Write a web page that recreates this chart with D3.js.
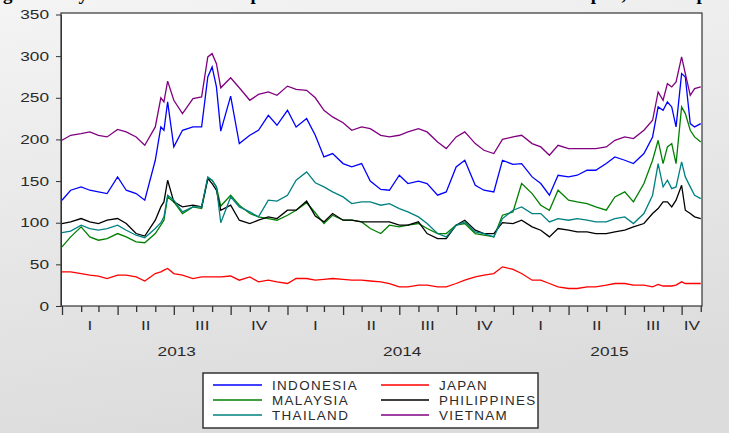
<!DOCTYPE html>
<html>
<head>
<meta charset="utf-8">
<script src="https://cdn.jsdelivr.net/npm/d3@7"></script>
<style>
  html, body { margin: 0; padding: 0; }
  body { width: 729px; height: 433px; overflow: hidden; }
  svg text { font-family: "Liberation Sans", Arial, sans-serif; fill: #2a2a2a; }
</style>
</head>
<body>
<script>
// data (CDS spreads, basis points)

var dates = [
  "2013-01-01","2013-01-15","2013-02-01","2013-02-15","2013-03-01","2013-03-15","2013-04-01","2013-04-15",
  "2013-05-01","2013-05-15","2013-06-01","2013-06-10","2013-06-15","2013-06-21","2013-07-01","2013-07-15",
  "2013-08-01","2013-08-15","2013-08-25","2013-09-01","2013-09-08","2013-09-15","2013-10-01","2013-10-15",
  "2013-11-01","2013-11-15","2013-12-01","2013-12-15",
  "2014-01-01","2014-01-15","2014-02-01","2014-02-15","2014-03-01","2014-03-15","2014-04-01","2014-04-15",
  "2014-05-01","2014-05-15","2014-06-01","2014-06-15","2014-07-01","2014-07-15","2014-08-01","2014-08-15",
  "2014-09-01","2014-09-15","2014-10-01","2014-10-15","2014-11-01","2014-11-15","2014-12-01","2014-12-15",
  "2015-01-01","2015-01-15","2015-02-01","2015-02-15","2015-03-01","2015-03-15","2015-04-01","2015-04-15",
  "2015-05-01","2015-05-15","2015-06-01","2015-06-15","2015-07-01","2015-07-15","2015-08-01","2015-08-15",
  "2015-08-24","2015-09-01","2015-09-08","2015-09-15","2015-09-22","2015-10-01","2015-10-07","2015-10-15",
  "2015-10-22","2015-11-01"
];

var indonesia = [
  127,139,143,139,137,135,155,139,135,127,175,215,211,245,191,211,215,215,275,287,263,210,252,195,205,211,229,217,
  235,215,225,205,179,183,171,167,171,150,140,139,157,147,150,147,133,137,167,175,145,139,137,175,
  170,171,155,147,133,157,155,157,163,163,171,179,175,171,183,203,239,235,245,239,215,279,275,219,215,219
];
var japan = [
  41,41,39,37,36,33,37,37,35,30,39,41,43,45,39,37,33,35,35,35,35,35,36,31,35,29,31,29,
  27,33,33,31,32,33,32,31,31,30,29,27,23,23,25,25,23,23,27,31,35,37,39,47,
  44,39,31,31,27,23,21,21,23,23,25,27,27,25,25,23,26,24,24,24,25,29,27,27,27,27
];
var malaysia = [
  71,83,95,83,79,81,87,83,77,76,87,97,103,131,125,111,119,117,153,151,143,120,133,121,111,107,105,103,
  109,115,124,112,99,109,103,103,101,93,87,97,95,97,99,93,87,87,97,99,87,85,83,109,
  113,147,135,121,115,139,127,125,123,119,115,131,137,125,147,175,199,171,191,195,171,239,231,211,203,197
];
var philippines = [
  99,101,105,101,99,103,105,99,87,84,103,119,125,151,125,119,121,119,153,147,139,115,121,103,99,103,107,105,
  115,115,126,108,101,111,103,103,101,101,101,101,97,97,101,87,81,81,97,103,91,87,87,100,
  99,103,95,91,83,93,91,89,89,87,87,89,91,95,99,111,117,125,125,119,127,145,115,111,107,105
];
var thailand = [
  88,90,97,93,91,93,97,91,85,82,93,100,107,133,127,113,119,119,155,151,143,100,131,119,113,107,127,126,
  133,151,161,148,143,137,131,123,125,125,121,123,117,113,107,99,87,83,97,101,89,87,83,105,
  115,119,111,111,101,105,103,105,103,101,101,105,107,99,111,133,171,143,151,141,143,173,155,143,133,129
];
var vietnam = [
  199,205,207,209,205,203,212,209,203,193,215,250,245,270,247,231,249,251,299,303,291,262,274,262,247,254,257,253,
  264,260,259,250,235,227,220,211,215,213,205,203,205,209,213,209,197,189,203,209,195,187,183,200,
  203,205,195,191,181,193,189,189,189,189,191,199,203,201,211,223,257,247,267,263,269,299,279,253,261,263
];

var seriesNames = ["INDONESIA", "JAPAN", "MALAYSIA", "PHILIPPINES", "THAILAND", "VIETNAM"];
var seriesValues = [indonesia, japan, malaysia, philippines, thailand, vietnam];
var seriesColors = ["#0000ff", "#ff0000", "#008000", "#000000", "#008080", "#800080"];

var yTicks = [0, 50, 100, 150, 200, 250, 300, 350];
var quarterNames = ["I", "II", "III", "IV"];

// layout
var W = 729, H = 433;
var plotLeft = 61, plotRight = 702, plotTop = 13, plotBottom = 306;
var sx = 1.38; // the original text is stretched sideways

var parseDate = d3.timeParse("%Y-%m-%d");
var startDate = parseDate("2013-01-01"),
    endDate = parseDate("2015-11-03");

var x = d3.scaleTime()
    .domain([startDate, endDate])
    .range([62, plotRight]);

var y = d3.scaleLinear()
    .domain([0, 350])
    .range([plotBottom, 14.5]);

var svg = d3.select("body").append("svg")
    .attr("width", W)
    .attr("height", H);

var defs = svg.append("defs");
var grad = defs.append("linearGradient")
    .attr("id", "bg")
    .attr("x1", 0).attr("y1", 0).attr("x2", 0.25).attr("y2", 1);
grad.append("stop").attr("offset", "0%").attr("stop-color", "#f4f4f4");
grad.append("stop").attr("offset", "100%").attr("stop-color", "#dcdcdc");

svg.append("rect")
    .attr("width", W).attr("height", H)
    .attr("fill", "url(#bg)");

// caption above the chart, cut off by the top edge like in the original
svg.append("text")
    .attr("x", -14)
    .attr("y", -0.5)
    .style("font-family", "'Liberation Serif', 'Times New Roman', serif")
    .style("font-weight", "bold")
    .style("font-size", "19px")
    .style("fill", "#000")
    .text("Figure 1: Dynamics of the CDS spreads for selected Asian countries and Japan, in basis points");

// plot area
svg.append("rect")
    .attr("x", plotLeft).attr("y", plotTop)
    .attr("width", plotRight - plotLeft).attr("height", plotBottom - plotTop)
    .attr("fill", "#ffffff");

var dateObjs = dates.map(parseDate);

var line = d3.line()
    .x(function(d) { return x(d[0]); })
    .y(function(d) { return y(d[1]); });

var linesG = svg.append("g").attr("class", "lines");
seriesValues.forEach(function(vals, i) {
  var pts = dateObjs.map(function(dt, j) { return [dt, vals[j]]; });
  linesG.append("path")
      .datum(pts)
      .attr("fill", "none")
      .attr("stroke", seriesColors[i])
      .attr("stroke-width", 1.3)
      .attr("stroke-linejoin", "miter")
      .attr("d", line);
});

svg.append("rect")
    .attr("x", plotLeft).attr("y", plotTop)
    .attr("width", plotRight - plotLeft).attr("height", plotBottom - plotTop)
    .attr("fill", "none")
    .attr("stroke", "#333")
    .attr("stroke-width", 1.2);

// y axis
var yAxis = svg.append("g")
    .attr("transform", "translate(" + plotLeft + ",0)")
    .call(d3.axisLeft(y).tickValues(yTicks).tickSize(5).tickSizeOuter(0));
yAxis.select(".domain").attr("stroke", "#333");
yAxis.selectAll(".tick line").attr("stroke", "#333");
yAxis.selectAll(".tick text")
    .attr("x", -12 / sx)
    .attr("transform", "scale(" + sx + ",1)")
    .style("font-size", "12.5px")
    .style("fill", "#2a2a2a")
    .style("font-family", "'Liberation Sans', Arial, sans-serif");

// x axis, monthly ticks, longer at quarters
var months = d3.timeMonth.range(startDate, endDate);
var xAxis = svg.append("g")
    .attr("transform", "translate(0," + plotBottom + ")")
    .call(d3.axisBottom(x).tickValues(months).tickSize(6).tickSizeOuter(0).tickFormat(""));
xAxis.select(".domain").remove();
xAxis.selectAll(".tick line")
    .attr("stroke", "#333")
    .attr("stroke-width", 1.3)
    .attr("y2", function(d) { return d.getMonth() % 3 === 0 ? 9 : 6; });

function stretchText(g, px, py, str, size) {
  g.append("text")
      .attr("transform", "translate(" + px + "," + py + ") scale(" + sx + ",1)")
      .attr("text-anchor", "middle")
      .style("font-size", size + "px")
      .text(str);
}

var quarters = d3.timeMonth.every(3).range(startDate, endDate);
quarters.forEach(function(q) {
  var qEnd = d3.min([d3.timeMonth.offset(q, 3), endDate]);
  stretchText(svg, (x(q) + x(qEnd)) / 2, 330, quarterNames[Math.floor(q.getMonth() / 3)], 12.5);
});

var years = d3.timeYear.range(startDate, endDate);
years.forEach(function(yr) {
  var yEnd = d3.min([d3.timeYear.offset(yr, 1), endDate]);
  stretchText(svg, (x(yr) + x(yEnd)) / 2 + 2, 356, d3.timeFormat("%Y")(yr), 12.5);
});

// legend
var legend = svg.append("g");
legend.append("rect")
    .attr("x", 203).attr("y", 373)
    .attr("width", 335).attr("height", 55)
    .attr("fill", "#ffffff")
    .attr("stroke", "#333")
    .attr("stroke-width", 1.5);

var legCols = [[213, 262, 272], [381, 429, 439]];
var legRows = [385, 400, 415];
seriesNames.forEach(function(name, i) {
  var c = legCols[i % 2], r = legRows[Math.floor(i / 2)];
  legend.append("line")
      .attr("x1", c[0]).attr("x2", c[1])
      .attr("y1", r).attr("y2", r)
      .attr("stroke", seriesColors[i])
      .attr("stroke-width", 1.3);
  legend.append("text")
      .attr("transform", "translate(" + c[2] + "," + (r + 4.5) + ") scale(1.12,1)")
      .style("font-size", "12px")
      .style("letter-spacing", "1.2px")
      .text(name);
});
</script>
</body>
</html>
